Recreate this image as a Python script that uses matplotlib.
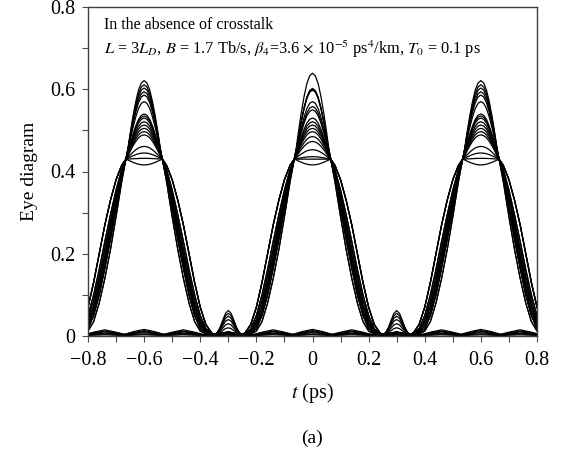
import matplotlib
matplotlib.use("Agg")
import numpy as np
import matplotlib.pyplot as plt
from matplotlib.ticker import MultipleLocator

plt.rcParams['font.family'] = ['Liberation Serif', 'DejaVu Serif']
plt.rcParams['mathtext.fontset'] = 'stix'

# bit slot centres (ps)
centres = [-0.6, 0.0, 0.6]

# pulse crest: offsets from slot centre and normalised crest profile
crest_off = [0.0, 0.01, 0.02, 0.03, 0.04, 0.05, 0.057]
crest_shape = [1.0, 0.97, 0.88, 0.73, 0.54, 0.32, 0.15]
shoulder = 0.43

# peak levels of the ones at the outer slots and at the centre slot
side_peaks = [0.621, 0.611, 0.603, 0.594, 0.586, 0.570, 0.540, 0.535, 0.530,
              0.521, 0.513, 0.505, 0.497, 0.489, 0.461, 0.445, 0.432, 0.416]
centre_peaks = [0.639, 0.602, 0.600, 0.598, 0.570, 0.558, 0.550, 0.530, 0.521,
                0.513, 0.505, 0.497, 0.485, 0.473, 0.453, 0.436, 0.430, 0.416]

# falling edges below the shoulder
skirt_off = [0.065, 0.08, 0.10, 0.12, 0.14, 0.16, 0.18, 0.20, 0.22, 0.24]
skirts = [
    [0.43, 0.375, 0.29, 0.21, 0.14, 0.08, 0.035, 0.012, 0.005, 0.004],
    [0.43, 0.385, 0.31, 0.235, 0.165, 0.10, 0.05, 0.018, 0.007, 0.004],
    [0.43, 0.39, 0.32, 0.25, 0.18, 0.115, 0.06, 0.025, 0.009, 0.005],
    [0.43, 0.395, 0.335, 0.265, 0.195, 0.13, 0.072, 0.032, 0.011, 0.005],
    [0.43, 0.40, 0.345, 0.28, 0.212, 0.146, 0.086, 0.04, 0.014, 0.006],
    [0.43, 0.405, 0.355, 0.295, 0.23, 0.162, 0.10, 0.05, 0.018, 0.006],
    [0.43, 0.415, 0.38, 0.33, 0.27, 0.20, 0.13, 0.07, 0.028, 0.008],
]

# between-slot tails (sidelobe bumps at +-0.3 ps, last one flat)
tail_off = [0.25, 0.26, 0.27, 0.28, 0.29, 0.30]
tails = [
    [0.004, 0.008, 0.020, 0.038, 0.055, 0.062],
    [0.004, 0.007, 0.018, 0.034, 0.049, 0.055],
    [0.004, 0.007, 0.016, 0.030, 0.043, 0.048],
    [0.004, 0.006, 0.014, 0.025, 0.036, 0.040],
    [0.004, 0.006, 0.011, 0.019, 0.027, 0.030],
    [0.004, 0.005, 0.008, 0.013, 0.018, 0.020],
    [0.003, 0.003, 0.004, 0.006, 0.008, 0.009],
]

skirt_idx = [0, 2, 1, 3, 0, 5, 4, 1, 6, 2, 5, 3, 6, 4, 1, 6, 3, 6]
tail_idx = [6, 0, 6, 1, 6, 6, 2, 6, 3, 6, 6, 4, 6, 5, 6, 6, 6, 6]

# zero-level traces with small ripples
ripple_off = [0.0, 0.035, 0.07, 0.105, 0.14, 0.175, 0.21, 0.25, 0.30]
ripples = [
    [0.016, 0.011, 0.004, 0.010, 0.015, 0.010, 0.004, 0.005, 0.010],
    [0.013, 0.009, 0.004, 0.008, 0.012, 0.008, 0.003, 0.004, 0.008],
    [0.011, 0.007, 0.003, 0.007, 0.010, 0.007, 0.003, 0.003, 0.007],
    [0.008, 0.006, 0.002, 0.005, 0.007, 0.005, 0.002, 0.002, 0.005],
    [0.005, 0.004, 0.002, 0.004, 0.005, 0.004, 0.002, 0.002, 0.003],
    [0.003, 0.002, 0.001, 0.002, 0.003, 0.002, 0.001, 0.001, 0.002],
]


def window(c, off, vals):
    off = np.asarray(off)
    vals = np.asarray(vals)
    t = np.concatenate([c - off[:0:-1], c + off])
    y = np.concatenate([vals[:0:-1], vals])
    return t, y


def trace(peaks, skirt, tail):
    ts, ys = [], []
    for c, p in zip(centres, peaks):
        crest = [shoulder + (p - shoulder) * s for s in crest_shape]
        off = crest_off + skirt_off + tail_off
        vals = crest + skirt + tail
        t, y = window(c, off, vals)
        ts.append(t)
        ys.append(y)
    return np.concatenate(ts), np.concatenate(ys)


fig = plt.figure(figsize=(5.62, 4.5), dpi=100)
ax = fig.add_axes([88 / 562, 1 - 336 / 450, 449 / 562, 329 / 450])

for i in range(len(side_peaks)):
    peaks = [side_peaks[i], centre_peaks[i], side_peaks[i]]
    t, y = trace(peaks, skirts[skirt_idx[i]], tails[tail_idx[i]])
    ax.plot(t, y, color='black', lw=0.9)

for r in ripples:
    ts, ys = [], []
    for c in centres:
        t, y = window(c, ripple_off, r)
        ts.append(t)
        ys.append(y)
    ax.plot(np.concatenate(ts), np.concatenate(ys), color='black', lw=0.9)

ax.set_xlim(-0.8, 0.8)
ax.set_ylim(0, 0.8)
ax.xaxis.set_minor_locator(MultipleLocator(0.1))
ax.yaxis.set_minor_locator(MultipleLocator(0.1))
ax.set_yticks([0, 0.2, 0.4, 0.6, 0.8])
ax.set_yticklabels(['0', '0.2', '0.4', '0.6', '0.8'])
ax.set_xticks([-0.8, -0.6, -0.4, -0.2, 0, 0.2, 0.4, 0.6, 0.8])
ax.set_xticklabels(['\u22120.8', '\u22120.6', '\u22120.4', '\u22120.2', '0',
                    '0.2', '0.4', '0.6', '0.8'])
ax.tick_params(which='both', direction='out', top=False, right=False,
               width=0.8, color='0.3', labelsize=14.5, length=4)
ax.tick_params(axis='x', which='both', pad=7)
ax.tick_params(axis='y', which='both', pad=5)
for s in ax.spines.values():
    s.set_linewidth(1.0)
    s.set_color('0.25')

ax.set_ylabel('Eye diagram', fontsize=14, labelpad=9)
ax.set_xlabel('$t$ (ps)', fontsize=14.5, labelpad=8)

ax.text(0.036, 0.945, 'In the absence of crosstalk', transform=ax.transAxes,
        fontsize=11.5, va='center', ha='left')
ax.text(0.036, 0.87,
        r'$L$ = 3$L_D$, $B$ = 1.7 Tb/s, $\beta_4$=3.6 $\times$ 10$^{-5}$ '
        r'ps$^4$/km, $T_0$ = 0.1 ps',
        transform=ax.transAxes, fontsize=11.8, va='center', ha='left')

fig.text(312.5 / 562, 1 - 438 / 450, '(a)', fontsize=14, ha='center',
         va='center')

fig.savefig('out.png', dpi=100)
